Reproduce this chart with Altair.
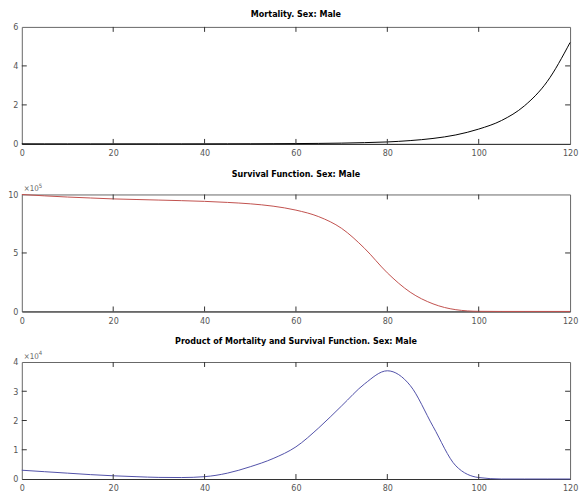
import altair as alt
import pandas as pd

ages = [0, 5, 10, 15, 20, 25, 30, 35, 40, 45, 50, 55, 60,
        65, 70, 75, 80, 85, 90, 95, 100, 105, 110, 115, 120]

mortality = [0.003, 0.0005, 0.0003, 0.0008, 0.0012, 0.0013, 0.0015, 0.002, 0.003,
             0.0045, 0.007, 0.011, 0.017, 0.026, 0.04, 0.065, 0.1, 0.17, 0.28,
             0.46, 0.76, 1.2, 1.95, 3.2, 5.2]

survival = [1000000, 988000, 978000, 970000, 962000, 957000, 952000, 947000, 941000,
            932000, 920000, 900000, 866000, 810000, 710000, 540000, 330000, 165000,
            65000, 15000, 1000, 0, 0, 0, 0]

product = [3000, 2500, 2000, 1500, 1100, 800, 550, 500, 800, 2000, 4200, 7000, 11000,
           17500, 25000, 32500, 37000, 32000, 18000, 4500, 500, 0, 0, 0, 0]

x_ticks = [0, 20, 40, 60, 80, 100, 120]
inner_x_ticks = [20, 40, 60, 80, 100]

titles = ["Mortality. Sex: Male",
          "Survival Function. Sex: Male",
          "Product of Mortality and Survival Function. Sex: Male"]

FONT = "DejaVu Sans Condensed, Liberation Sans, sans-serif"
W = 553
H = 118
TICK = 5
TICK_COLOR = "#333333"


def panel(values, color, ymax, yticks, inner_yticks, label_expr, title, height, exponent=None):
    df = pd.DataFrame({"age": ages, "v": values})
    xs = alt.Scale(domain=[0, 120], nice=False, zero=False)
    ys = alt.Scale(domain=[0, ymax], nice=False)
    x_axis = alt.Axis(values=x_ticks, ticks=False, domain=True, domainColor="#333333",
                      grid=False, title=None, labelPadding=5, format="d",
                      labelFlush=False)
    y_axis = alt.Axis(values=yticks, ticks=False, domain=False, grid=False,
                      title=None, labelPadding=4, labelExpr=label_expr)
    line = alt.Chart(df).mark_line(color=color, strokeWidth=1, interpolate="monotone").encode(
        x=alt.X("age:Q", scale=xs, axis=x_axis),
        y=alt.Y("v:Q", scale=ys, axis=y_axis),
    )
    xt = pd.DataFrame({"t": inner_x_ticks})
    yt = pd.DataFrame({"t": inner_yticks})
    bottom = alt.Chart(xt).mark_rule(color=TICK_COLOR, strokeWidth=1).encode(
        x=alt.X("t:Q", scale=xs, axis=x_axis), y=alt.value(height), y2=alt.value(height - TICK))
    top = alt.Chart(xt).mark_rule(color=TICK_COLOR, strokeWidth=1).encode(
        x=alt.X("t:Q", scale=xs, axis=x_axis), y=alt.value(0), y2=alt.value(TICK))
    left = alt.Chart(yt).mark_rule(color=TICK_COLOR, strokeWidth=1).encode(
        y=alt.Y("t:Q", scale=ys, axis=y_axis), x=alt.value(0), x2=alt.value(TICK))
    right = alt.Chart(yt).mark_rule(color=TICK_COLOR, strokeWidth=1).encode(
        y=alt.Y("t:Q", scale=ys, axis=y_axis), x=alt.value(W - TICK), x2=alt.value(W))
    layers = [line, bottom, top, left, right]
    if exponent is not None:
        ex = pd.DataFrame({"a": ["\u00d710"], "b": [exponent]})
        base_txt = alt.Chart(ex).mark_text(align="left", baseline="bottom", font=FONT,
                                           fontSize=8, color="#666666").encode(
            text="a:N", x=alt.value(2), y=alt.value(-1))
        exp_txt = alt.Chart(ex).mark_text(align="left", baseline="bottom", font=FONT,
                                          fontSize=6, color="#666666").encode(
            text="b:N", x=alt.value(17), y=alt.value(-6))
        layers += [base_txt, exp_txt]
    return alt.layer(*layers).properties(
        width=W, height=height,
        title=alt.TitleParams(title, font=FONT, fontSize=9, fontWeight="bold",
                              color="black", anchor="middle", offset=4),
    )


p1 = panel(mortality, "black", 6, [0, 2, 4, 6], [2, 4], "datum.label", titles[0], H)
p2 = panel(survival, "#c0504d", 1000000, [0, 500000, 1000000], [500000],
           "format(datum.value / 100000, 'd')", titles[1], H, exponent="5")
p3 = panel(product, "#5050a8", 40000, [0, 10000, 20000, 30000, 40000], [10000, 20000, 30000],
           "format(datum.value / 10000, 'd')", titles[2], H, exponent="4")

chart = alt.vconcat(p1, p2, p3, spacing=10).properties(
    padding={"left": 7, "top": 7, "right": 0, "bottom": 0},
    background="white",
).configure_view(stroke="#666666", strokeWidth=1).configure_axis(
    labelFont=FONT, labelFontSize=9, labelColor="#555555"
)

chart.save("out.html", embed_options={"renderer": "svg", "actions": False})
